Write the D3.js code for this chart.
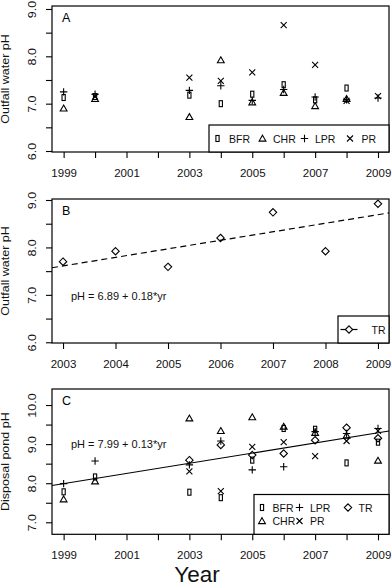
<!DOCTYPE html>
<html>
<head>
<meta charset="utf-8">
<script src="https://cdn.jsdelivr.net/npm/d3@7"></script>
<style>
	body { margin: 0; background: white; }
	svg { display: block; font-family: "Liberation Sans", Arial, sans-serif; }
</style>
</head>
<body>
<script>
// years sampled (panels A and C)
const years = [1999, 2000, 2003, 2004, 2005, 2006, 2007, 2008, 2009];

// A: outfall water pH per site
const outfallBFR = [7.13, 7.15, 7.18, 7.00, 7.20, 7.40, 7.08, 7.33, null];
const outfallCHR = [6.90, 7.10, 6.72, 7.92, 7.03, 7.23, 6.95, 7.10, null];
const outfallLPR = [7.25, 7.20, 7.28, 7.38, 7.07, 7.30, 7.14, 7.08, 7.12];
const outfallPR  = [null, 7.15, 7.55, 7.48, 7.66, 8.66, 7.82, 7.06, 7.16];

// B: outfall water pH at TR
const trYears = [2003, 2004, 2005, 2006, 2007, 2008, 2009];
const outfallTR = [7.70, 7.92, 7.59, 8.20, 8.74, 7.92, 8.92];

// C: disposal pond pH per site
const pondBFR = [7.78, 8.16, 7.77, 7.63, 8.59, 9.40, 9.38, 8.52, 9.05];
const pondCHR = [7.59, 8.05, 9.66, 9.34, 9.69, 9.45, 9.29, 9.22, 8.58];
const pondLPR = [7.99, 8.57, 8.47, 9.08, 8.34, 8.42, 9.32, 9.27, 9.40];
const pondPR  = [null, null, 8.30, 7.80, 8.93, 9.05, 8.69, 9.08, 9.34];
const pondTR  = [null, null, 8.59, 8.98, 8.72, 8.76, 9.10, 9.42, 9.15];

// fitted trends, yr = year - 1999
const fitB = { a: 6.89, b: 0.18, label: "pH = 6.89 + 0.18*yr" };
const fitC = { a: 7.99, b: 0.13, label: "pH = 7.99 + 0.13*yr" };

const W = 392, H = 587;
const LEFT = 52, RIGHT = 389;

const svg = d3.select("body").append("svg")
	.attr("width", W)
	.attr("height", H);

svg.append("rect").attr("width", W).attr("height", H).attr("fill", "white");

// R-ish plotting characters
const SYMBOLS = {
	BFR: g => g.append("rect").attr("x", -1.6).attr("y", -3).attr("width", 3.2).attr("height", 6),
	CHR: g => g.append("path").attr("d", "M0,-3.3L3.4,2.6L-3.4,2.6Z"),
	LPR: g => g.append("path").attr("d", "M-3.7,0H3.7M0,-3.7V3.7"),
	PR: g => g.append("path").attr("d", "M-3,-3L3,3M-3,3L3,-3"),
	TR: g => g.append("path").attr("d", "M0,-3.7L3.7,0L0,3.7L-3.7,0Z")
};

function drawSymbol(parent, name, x, y) {
	const g = parent.append("g")
		.attr("transform", `translate(${x},${y})`)
		.attr("fill", "none")
		.attr("stroke", "black")
		.attr("stroke-width", 1.1);
	SYMBOLS[name](g);
}

function makePanel(opts) {
	const { top, bottom, xDomain, yDomain, xTicks, xLabel, yTicks, title, letter } = opts;
	const x = d3.scaleLinear().domain(xDomain).range([LEFT, RIGHT]);
	const y = d3.scaleLinear().domain(yDomain).range([bottom, top]);
	const g = svg.append("g");

	// y axis
	const yAxis = g.append("g")
		.attr("transform", `translate(${LEFT},0)`)
		.call(d3.axisLeft(y).tickValues(yTicks).tickSize(6)
			.tickFormat(d => d % 1 === 0 ? d.toFixed(1) : ""));
	yAxis.select(".domain").remove();
	yAxis.selectAll("line").attr("stroke-width", 1.1);
	yAxis.selectAll("text")
		.attr("x", null).attr("dy", null)
		.attr("transform", "translate(-16,0) rotate(-90) scale(1,0.85)")
		.attr("text-anchor", "middle")
		.attr("font-size", 12.5)
		.attr("font-family", null)
		.attr("fill", "#111");

	// x axis
	const xAxis = g.append("g")
		.attr("transform", `translate(0,${bottom})`)
		.call(d3.axisBottom(x).tickValues(xTicks).tickSize(6)
			.tickFormat(d => xLabel(d) ? String(d) : ""));
	xAxis.select(".domain").remove();
	xAxis.selectAll("line").attr("stroke-width", 1.1);
	xAxis.selectAll("text")
		.attr("y", 25).attr("dy", null)
		.attr("font-size", 11.5)
		.attr("font-family", null)
		.attr("fill", "#111");

	// frame
	g.append("rect")
		.attr("x", LEFT).attr("y", top)
		.attr("width", RIGHT - LEFT).attr("height", bottom - top)
		.attr("fill", "none").attr("stroke", "black").attr("stroke-width", 1.2);

	g.append("text")
		.attr("transform", `translate(9,${(top + bottom) / 2}) rotate(-90) scale(1,0.85)`)
		.attr("text-anchor", "middle")
		.attr("font-size", 12.5)
		.attr("fill", "#111")
		.text(title);

	g.append("text")
		.attr("x", 62).attr("y", top + 15.5)
		.attr("font-size", 12.5)
		.text(letter);

	return { g, x, y };
}

function plotSeries(panel, name, xs, values) {
	values.forEach((v, i) => {
		if (v === null) return;
		drawSymbol(panel.g, name, panel.x(xs[i]), panel.y(v));
	});
}

function drawFit(panel, fit, dash) {
	const [x0, x1] = panel.x.domain();
	panel.g.append("line")
		.attr("x1", panel.x(x0)).attr("y1", panel.y(fit.a + fit.b * (x0 - 1999)))
		.attr("x2", panel.x(x1)).attr("y2", panel.y(fit.a + fit.b * (x1 - 1999)))
		.attr("stroke", "black")
		.attr("stroke-width", 1.2)
		.attr("stroke-dasharray", dash);
}

function drawLegend(panel, box, items) {
	panel.g.append("rect")
		.attr("x", box[0]).attr("y", box[1])
		.attr("width", box[2]).attr("height", box[3])
		.attr("fill", "white").attr("stroke", "black").attr("stroke-width", 1.2);
	items.forEach(it => {
		if (it.line) {
			panel.g.append("line")
				.attr("x1", it.sx - 8.5).attr("x2", it.sx + 8.5)
				.attr("y1", it.sy).attr("y2", it.sy)
				.attr("stroke", "black").attr("stroke-width", 1.2);
			panel.g.append("path")
				.attr("transform", `translate(${it.sx},${it.sy})`)
				.attr("d", "M0,-3.7L3.7,0L0,3.7L-3.7,0Z")
				.attr("fill", "white").attr("stroke", "black").attr("stroke-width", 1.1);
		} else {
			drawSymbol(panel.g, it.name, it.sx, it.sy);
		}
		panel.g.append("text")
			.attr("x", it.tx).attr("y", it.sy + 4)
			.attr("font-size", 10.5)
			.attr("fill", "#111")
			.text(it.name);
	});
}

const yearTicks = d3.range(1999, 2010);
const oddOnly = d => d % 2 === 1;

// Panel A
const panelA = makePanel({
	top: 6, bottom: 152,
	xDomain: [1998.63, 2009.35], yDomain: [5.979, 9.063],
	xTicks: yearTicks, xLabel: oddOnly,
	yTicks: d3.range(6, 9.01, 0.5),
	title: "Outfall water pH", letter: "A"
});
plotSeries(panelA, "BFR", years, outfallBFR);
plotSeries(panelA, "CHR", years, outfallCHR);
plotSeries(panelA, "LPR", years, outfallLPR);
plotSeries(panelA, "PR", years, outfallPR);
drawLegend(panelA, [209, 125, RIGHT - 209, 27], [
	{ name: "BFR", sx: 217.5, sy: 138.5, tx: 229 },
	{ name: "CHR", sx: 262.5, sy: 138.5, tx: 273 },
	{ name: "LPR", sx: 304.5, sy: 138.5, tx: 315 },
	{ name: "PR", sx: 350, sy: 138.5, tx: 361.5 }
]);

// Panel B
const panelB = makePanel({
	top: 199, bottom: 343,
	xDomain: [2002.79, 2009.21], yDomain: [5.985, 9.021],
	xTicks: trYears, xLabel: () => true,
	yTicks: d3.range(6, 9.01, 0.5),
	title: "Outfall water pH", letter: "B"
});
drawFit(panelB, fitB, "6,4");
plotSeries(panelB, "TR", trYears, outfallTR);
panelB.g.append("text")
	.attr("x", 71).attr("y", 299.5)
	.attr("font-size", 11)
	.attr("fill", "#111")
	.text(fitB.label);
drawLegend(panelB, [338, 316, RIGHT - 338, 27], [
	{ name: "TR", sx: 349, sy: 329.5, tx: 371.5, line: true }
]);

// Panel C
const panelC = makePanel({
	top: 389, bottom: 534.3,
	xDomain: [1998.63, 2009.35], yDomain: [6.693, 10.41],
	xTicks: yearTicks, xLabel: oddOnly,
	yTicks: d3.range(7, 10.01, 0.5),
	title: "Disposal pond pH", letter: "C"
});
drawFit(panelC, fitC, null);
plotSeries(panelC, "BFR", years, pondBFR);
plotSeries(panelC, "CHR", years, pondCHR);
plotSeries(panelC, "LPR", years, pondLPR);
plotSeries(panelC, "PR", years, pondPR);
plotSeries(panelC, "TR", years, pondTR);
panelC.g.append("text")
	.attr("x", 71).attr("y", 447.5)
	.attr("font-size", 11)
	.attr("fill", "#111")
	.text(fitC.label);
drawLegend(panelC, [254, 494.5, RIGHT - 254, 39.8], [
	{ name: "BFR", sx: 262, sy: 507.5, tx: 272.5 },
	{ name: "LPR", sx: 299.5, sy: 507.5, tx: 310 },
	{ name: "TR", sx: 348, sy: 507.5, tx: 358.5 },
	{ name: "CHR", sx: 262, sy: 521, tx: 272.5 },
	{ name: "PR", sx: 299.5, sy: 521, tx: 310 }
]);

svg.append("text")
	.attr("x", 197).attr("y", 582)
	.attr("text-anchor", "middle")
	.attr("font-size", 22.5)
	.attr("fill", "#111")
	.text("Year");
</script>
</body>
</html>
